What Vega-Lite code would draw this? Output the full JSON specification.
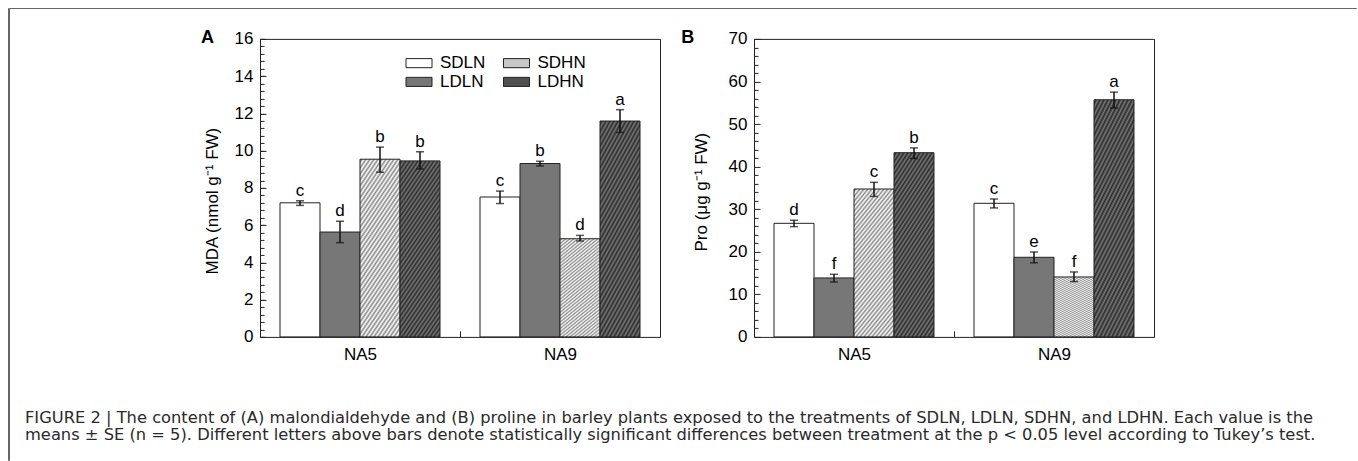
{
"$schema": "https://vega.github.io/schema/vega-lite/v6.json",
"padding": {"left": 7, "top": 7, "right": 0, "bottom": 0},
"autosize": {"type": "pad"},
"title": {
"text": ["FIGURE 2 | The content of (A) malondialdehyde and (B) proline in barley plants exposed to the treatments of SDLN, LDLN, SDHN, and LDHN. Each value is the", "means ± SE (n = 5). Different letters above bars denote statistically significant differences between treatment at the p < 0.05 level according to Tukey’s test."],
"orient": "bottom", "anchor": "start", "frame": "group", "dx": 17, "offset": -51,
"font": "DejaVu Sans", "fontSize": 16.3, "fontWeight": "normal", "lineHeight": 17, "baseline": "top", "color": "#2a2a2a"
},
"bounds": "flush",
"spacing": 0,
"datasets": {
"mda": [
{"genotype":"NA5","treatment":"SDLN","mean":7.2,"lo":7.06,"hi":7.31,"letter":"c"},
{"genotype":"NA5","treatment":"LDLN","mean":5.63,"lo":5.06,"hi":6.21,"letter":"d"},
{"genotype":"NA5","treatment":"SDHN","mean":9.54,"lo":8.84,"hi":10.19,"letter":"b"},
{"genotype":"NA5","treatment":"LDHN","mean":9.45,"lo":9.02,"hi":9.94,"letter":"b"},
{"genotype":"NA9","treatment":"SDLN","mean":7.51,"lo":7.16,"hi":7.83,"letter":"c"},
{"genotype":"NA9","treatment":"LDLN","mean":9.31,"lo":9.18,"hi":9.43,"letter":"b"},
{"genotype":"NA9","treatment":"SDHN","mean":5.27,"lo":5.15,"hi":5.45,"letter":"d"},
{"genotype":"NA9","treatment":"LDHN","mean":11.59,"lo":10.98,"hi":12.2,"letter":"a"}
],
"pro": [
{"genotype":"NA5","treatment":"SDLN","mean":26.68,"lo":25.9,"hi":27.4,"letter":"d"},
{"genotype":"NA5","treatment":"LDLN","mean":13.85,"lo":12.9,"hi":14.7,"letter":"f"},
{"genotype":"NA5","treatment":"SDHN","mean":34.74,"lo":33.0,"hi":36.3,"letter":"c"},
{"genotype":"NA5","treatment":"LDHN","mean":43.27,"lo":41.9,"hi":44.4,"letter":"b"},
{"genotype":"NA9","treatment":"SDLN","mean":31.38,"lo":30.3,"hi":32.4,"letter":"c"},
{"genotype":"NA9","treatment":"LDLN","mean":18.7,"lo":17.4,"hi":19.95,"letter":"e"},
{"genotype":"NA9","treatment":"SDHN","mean":14.08,"lo":12.99,"hi":15.26,"letter":"f"},
{"genotype":"NA9","treatment":"LDHN","mean":55.71,"lo":53.76,"hi":57.5,"letter":"a"}
]
},
"hconcat": [
{
"width": 0.01, "height": 452,
"view": {"stroke": "#666", "strokeWidth": 1},
"data": {"values": []},
"mark": {"type": "text"},
"encoding": {}
},
{
"vconcat": [
{
"width": 1347, "height": 0.01,
"view": {"stroke": "#666", "strokeWidth": 1},
"data": {"values": []},
"mark": {"type": "text"},
"encoding": {}
},
{
"hconcat": [
{
"width": 171.5, "height": 10,
"view": {"stroke": null},
"data": {"values": []},
"mark": {"type": "text"},
"encoding": {}
},
{
"width": 400,
"height": 298,
"data": {"name": "mda"},
"title": {"text": "A", "anchor": "start", "frame": "group", "dx": -59, "offset": 0, "dy": 30.7, "baseline": "alphabetic", "fontSize": 18, "fontWeight": "bold", "color": "#000"},
"encoding": {
"x": {"field": "genotype", "type": "nominal", "scale": {"paddingInner": 0, "paddingOuter": 0},
"axis": {"title": null, "labelAngle": 0, "labelPadding": 16, "tickBand": "extent", "tickSize": -6, "ticks": true}},
"xOffset": {"field": "treatment", "type": "nominal", "scale": {"domain": ["SDLN","LDLN","SDHN","LDHN"], "paddingInner": 0, "paddingOuter": 0.5}}
},
"resolve": {"axis": {"y": "independent"}},
"layer": [
{
"mark": {"type": "bar", "stroke": "#222", "strokeWidth": 1},
"encoding": {
"y": {"field": "mean", "type": "quantitative", "scale": {"domain": [0, 16], "nice": false},
"title": "MDA (nmol g⁻¹ FW)",
"axis": {"orient": "left", "values": [0,2,4,6,8,10,12,14,16], "tickCount": 100, "format": "d",
"labelOverlap": false, "labelFlush": false, "labelBound": false,
"tickSize": -6, "labelPadding": 13,
"titleX": -47.5, "titleY": 161.7, "titleAngle": 270, "titleAlign": "center", "titleBaseline": "middle"}},
"fill": {"field": "treatment", "type": "nominal",
"scale": {"domain": ["SDLN","LDLN","SDHN","LDHN"], "range": ["#ffffff","#777777","#c8c8c8","#505050"]},
"condition": [
{"test": "datum.treatment === 'SDHN'", "value":
{"gradient": "linear", "x1": 0, "y1": 0, "x2": 1, "y2": 3, "stops": [
{"offset":0,"color":"#fff"},{"offset":0.005,"color":"#888"},{"offset":0.01,"color":"#fff"},{"offset":0.015,"color":"#888"},{"offset":0.02,"color":"#fff"},{"offset":0.025,"color":"#888"},{"offset":0.03,"color":"#fff"},{"offset":0.035,"color":"#888"},{"offset":0.04,"color":"#fff"},{"offset":0.045,"color":"#888"},
{"offset":0.05,"color":"#fff"},{"offset":0.055,"color":"#888"},{"offset":0.06,"color":"#fff"},{"offset":0.065,"color":"#888"},{"offset":0.07,"color":"#fff"},{"offset":0.075,"color":"#888"},{"offset":0.08,"color":"#fff"},{"offset":0.085,"color":"#888"},{"offset":0.09,"color":"#fff"},{"offset":0.095,"color":"#888"},
{"offset":0.1,"color":"#fff"},{"offset":0.105,"color":"#888"},{"offset":0.11,"color":"#fff"},{"offset":0.115,"color":"#888"},{"offset":0.12,"color":"#fff"},{"offset":0.125,"color":"#888"},{"offset":0.13,"color":"#fff"},{"offset":0.135,"color":"#888"},{"offset":0.14,"color":"#fff"},{"offset":0.145,"color":"#888"},
{"offset":0.15,"color":"#fff"},{"offset":0.155,"color":"#888"},{"offset":0.16,"color":"#fff"},{"offset":0.165,"color":"#888"},{"offset":0.17,"color":"#fff"},{"offset":0.175,"color":"#888"},{"offset":0.18,"color":"#fff"},{"offset":0.185,"color":"#888"},{"offset":0.19,"color":"#fff"},{"offset":0.195,"color":"#888"},
{"offset":0.2,"color":"#fff"},{"offset":0.205,"color":"#888"},{"offset":0.21,"color":"#fff"},{"offset":0.215,"color":"#888"},{"offset":0.22,"color":"#fff"},{"offset":0.225,"color":"#888"},{"offset":0.23,"color":"#fff"},{"offset":0.235,"color":"#888"},{"offset":0.24,"color":"#fff"},{"offset":0.245,"color":"#888"},
{"offset":0.25,"color":"#fff"},{"offset":0.255,"color":"#888"},{"offset":0.26,"color":"#fff"},{"offset":0.265,"color":"#888"},{"offset":0.27,"color":"#fff"},{"offset":0.275,"color":"#888"},{"offset":0.28,"color":"#fff"},{"offset":0.285,"color":"#888"},{"offset":0.29,"color":"#fff"},{"offset":0.295,"color":"#888"},
{"offset":0.3,"color":"#fff"},{"offset":0.305,"color":"#888"},{"offset":0.31,"color":"#fff"},{"offset":0.315,"color":"#888"},{"offset":0.32,"color":"#fff"},{"offset":0.325,"color":"#888"},{"offset":0.33,"color":"#fff"},{"offset":0.335,"color":"#888"},{"offset":0.34,"color":"#fff"},{"offset":0.345,"color":"#888"},
{"offset":0.35,"color":"#fff"},{"offset":0.355,"color":"#888"},{"offset":0.36,"color":"#fff"},{"offset":0.365,"color":"#888"},{"offset":0.37,"color":"#fff"},{"offset":0.375,"color":"#888"},{"offset":0.38,"color":"#fff"},{"offset":0.385,"color":"#888"},{"offset":0.39,"color":"#fff"},{"offset":0.395,"color":"#888"},
{"offset":0.4,"color":"#fff"}]}},
{"test": "datum.treatment === 'LDHN'", "value":
{"gradient": "linear", "x1": 0, "y1": 0, "x2": 1, "y2": 3, "stops": [
{"offset":0,"color":"#777"},{"offset":0.005,"color":"#2a2a2a"},{"offset":0.01,"color":"#777"},{"offset":0.015,"color":"#2a2a2a"},{"offset":0.02,"color":"#777"},{"offset":0.025,"color":"#2a2a2a"},{"offset":0.03,"color":"#777"},{"offset":0.035,"color":"#2a2a2a"},{"offset":0.04,"color":"#777"},{"offset":0.045,"color":"#2a2a2a"},
{"offset":0.05,"color":"#777"},{"offset":0.055,"color":"#2a2a2a"},{"offset":0.06,"color":"#777"},{"offset":0.065,"color":"#2a2a2a"},{"offset":0.07,"color":"#777"},{"offset":0.075,"color":"#2a2a2a"},{"offset":0.08,"color":"#777"},{"offset":0.085,"color":"#2a2a2a"},{"offset":0.09,"color":"#777"},{"offset":0.095,"color":"#2a2a2a"},
{"offset":0.1,"color":"#777"},{"offset":0.105,"color":"#2a2a2a"},{"offset":0.11,"color":"#777"},{"offset":0.115,"color":"#2a2a2a"},{"offset":0.12,"color":"#777"},{"offset":0.125,"color":"#2a2a2a"},{"offset":0.13,"color":"#777"},{"offset":0.135,"color":"#2a2a2a"},{"offset":0.14,"color":"#777"},{"offset":0.145,"color":"#2a2a2a"},
{"offset":0.15,"color":"#777"},{"offset":0.155,"color":"#2a2a2a"},{"offset":0.16,"color":"#777"},{"offset":0.165,"color":"#2a2a2a"},{"offset":0.17,"color":"#777"},{"offset":0.175,"color":"#2a2a2a"},{"offset":0.18,"color":"#777"},{"offset":0.185,"color":"#2a2a2a"},{"offset":0.19,"color":"#777"},{"offset":0.195,"color":"#2a2a2a"},
{"offset":0.2,"color":"#777"},{"offset":0.205,"color":"#2a2a2a"},{"offset":0.21,"color":"#777"},{"offset":0.215,"color":"#2a2a2a"},{"offset":0.22,"color":"#777"},{"offset":0.225,"color":"#2a2a2a"},{"offset":0.23,"color":"#777"},{"offset":0.235,"color":"#2a2a2a"},{"offset":0.24,"color":"#777"},{"offset":0.245,"color":"#2a2a2a"},
{"offset":0.25,"color":"#777"},{"offset":0.255,"color":"#2a2a2a"},{"offset":0.26,"color":"#777"},{"offset":0.265,"color":"#2a2a2a"},{"offset":0.27,"color":"#777"},{"offset":0.275,"color":"#2a2a2a"},{"offset":0.28,"color":"#777"},{"offset":0.285,"color":"#2a2a2a"},{"offset":0.29,"color":"#777"},{"offset":0.295,"color":"#2a2a2a"},
{"offset":0.3,"color":"#777"},{"offset":0.305,"color":"#2a2a2a"},{"offset":0.31,"color":"#777"},{"offset":0.315,"color":"#2a2a2a"},{"offset":0.32,"color":"#777"},{"offset":0.325,"color":"#2a2a2a"},{"offset":0.33,"color":"#777"},{"offset":0.335,"color":"#2a2a2a"},{"offset":0.34,"color":"#777"},{"offset":0.345,"color":"#2a2a2a"},
{"offset":0.35,"color":"#777"},{"offset":0.355,"color":"#2a2a2a"},{"offset":0.36,"color":"#777"},{"offset":0.365,"color":"#2a2a2a"},{"offset":0.37,"color":"#777"},{"offset":0.375,"color":"#2a2a2a"},{"offset":0.38,"color":"#777"},{"offset":0.385,"color":"#2a2a2a"},{"offset":0.39,"color":"#777"},{"offset":0.395,"color":"#2a2a2a"},
{"offset":0.4,"color":"#777"}]}}
],
"legend": {"orient": "none", "legendX": 150.5, "legendY": 15.5, "columns": 2, "title": null, "padding": 0,
"symbolType": "M-2,-0.7H2V0.7H-2Z", "symbolSize": 169, "symbolStrokeColor": "#222", "symbolStrokeWidth": 1, "symbolOpacity": 1,
"labelFontSize": 17, "labelOffset": 12.5, "labelColor": "#000", "columnPadding": 15.5, "rowPadding": 1,
"encode": {"symbols": {"update": {
"stroke": {"value": "#222"}, "strokeWidth": {"value": 1},
"fill": {"condition": [
{"test": "datum.value === 'SDHN'", "value": {"gradient": "linear", "x1": 0, "y1": 0, "x2": 1.2, "y2": 0.42, "stops": [
{"offset":0,"color":"#fff"},{"offset":0.06,"color":"#888"},{"offset":0.12,"color":"#fff"},{"offset":0.18,"color":"#888"},{"offset":0.24,"color":"#fff"},{"offset":0.3,"color":"#888"},{"offset":0.36,"color":"#fff"},{"offset":0.42,"color":"#888"},{"offset":0.48,"color":"#fff"},{"offset":0.54,"color":"#888"},{"offset":0.6,"color":"#fff"},{"offset":0.66,"color":"#888"},{"offset":0.72,"color":"#fff"},{"offset":0.78,"color":"#888"},{"offset":0.84,"color":"#fff"},{"offset":0.9,"color":"#888"},{"offset":0.96,"color":"#fff"},{"offset":1,"color":"#888"}]}},
{"test": "datum.value === 'LDHN'", "value": {"gradient": "linear", "x1": 0, "y1": 0, "x2": 1.2, "y2": 0.42, "stops": [
{"offset":0,"color":"#777"},{"offset":0.06,"color":"#2a2a2a"},{"offset":0.12,"color":"#777"},{"offset":0.18,"color":"#2a2a2a"},{"offset":0.24,"color":"#777"},{"offset":0.3,"color":"#2a2a2a"},{"offset":0.36,"color":"#777"},{"offset":0.42,"color":"#2a2a2a"},{"offset":0.48,"color":"#777"},{"offset":0.54,"color":"#2a2a2a"},{"offset":0.6,"color":"#777"},{"offset":0.66,"color":"#2a2a2a"},{"offset":0.72,"color":"#777"},{"offset":0.78,"color":"#2a2a2a"},{"offset":0.84,"color":"#777"},{"offset":0.9,"color":"#2a2a2a"},{"offset":0.96,"color":"#777"},{"offset":1,"color":"#2a2a2a"}]}},
{"test": "datum.value === 'LDLN'", "value": "#777777"}
], "value": "#ffffff"}
}}}}
}
}
},
{
"mark": {"type": "errorbar", "ticks": {"size": 8, "thickness": 1.5, "color": "#111"}, "rule": {"strokeWidth": 1.5, "color": "#111"}},
"encoding": {
"y": {"field": "lo", "type": "quantitative", "title": null,
"axis": {"orient": "left", "values": [0,0.4,0.8,1.2,1.6,2,2.4,2.8,3.2,3.6,4,4.4,4.8,5.2,5.6,6,6.4,6.8,7.2,7.6,8,8.4,8.8,9.2,9.6,10,10.4,10.8,11.2,11.6,12,12.4,12.8,13.2,13.6,14,14.4,14.8,15.2,15.6,16],
"tickCount": 100, "labels": false, "title": null, "tickSize": -4}},
"y2": {"field": "hi"}
}
},
{
"mark": {"type": "text", "baseline": "alphabetic", "dy": -5, "fontSize": 17, "color": "#000"},
"encoding": {
"y": {"field": "hi", "type": "quantitative", "axis": null},
"text": {"field": "letter"}
}
}
]
},
{
"width": 400,
"height": 298,
"data": {"name": "pro"},
"title": {"text": "B", "anchor": "start", "frame": "group", "dx": -72.7, "offset": 0, "dy": 30.7, "baseline": "alphabetic", "fontSize": 18, "fontWeight": "bold", "color": "#000"},
"encoding": {
"x": {"field": "genotype", "type": "nominal", "scale": {"paddingInner": 0, "paddingOuter": 0},
"axis": {"title": null, "labelAngle": 0, "labelPadding": 16, "tickBand": "extent", "tickSize": -6, "ticks": true}},
"xOffset": {"field": "treatment", "type": "nominal", "scale": {"domain": ["SDLN","LDLN","SDHN","LDHN"], "paddingInner": 0, "paddingOuter": 0.5}}
},
"layer": [
{
"mark": {"type": "bar", "stroke": "#222", "strokeWidth": 1},
"encoding": {
"y": {"field": "mean", "type": "quantitative", "scale": {"domain": [0, 70], "nice": false},
"title": "Pro (μg g⁻¹ FW)",
"axis": {"values": [0,2,4,6,8,10,12,14,16,18,20,22,24,26,28,30,32,34,36,38,40,42,44,46,48,50,52,54,56,58,60,62,64,66,68,70],
"tickCount": 100, "format": "d", "labelExpr": "datum.value % 10 == 0 ? datum.label : ''",
"labelOverlap": false, "labelFlush": false, "labelBound": false,
"tickSize": {"condition": {"test": "datum.value % 10 == 0", "value": -6}, "value": -4},
"labelPadding": 13,
"titleX": -52.2, "titleY": 152.7, "titleAngle": 270, "titleAlign": "center", "titleBaseline": "middle"}},
"fill": {"field": "treatment", "type": "nominal",
"scale": {"domain": ["SDLN","LDLN","SDHN","LDHN"], "range": ["#ffffff","#777777","#c8c8c8","#505050"]},
"legend": null,
"condition": [
{"test": "datum.treatment === 'SDHN'", "value":
{"gradient": "linear", "x1": 0, "y1": 0, "x2": 1, "y2": 3, "stops": [
{"offset":0,"color":"#fff"},{"offset":0.005,"color":"#888"},{"offset":0.01,"color":"#fff"},{"offset":0.015,"color":"#888"},{"offset":0.02,"color":"#fff"},{"offset":0.025,"color":"#888"},{"offset":0.03,"color":"#fff"},{"offset":0.035,"color":"#888"},{"offset":0.04,"color":"#fff"},{"offset":0.045,"color":"#888"},
{"offset":0.05,"color":"#fff"},{"offset":0.055,"color":"#888"},{"offset":0.06,"color":"#fff"},{"offset":0.065,"color":"#888"},{"offset":0.07,"color":"#fff"},{"offset":0.075,"color":"#888"},{"offset":0.08,"color":"#fff"},{"offset":0.085,"color":"#888"},{"offset":0.09,"color":"#fff"},{"offset":0.095,"color":"#888"},
{"offset":0.1,"color":"#fff"},{"offset":0.105,"color":"#888"},{"offset":0.11,"color":"#fff"},{"offset":0.115,"color":"#888"},{"offset":0.12,"color":"#fff"},{"offset":0.125,"color":"#888"},{"offset":0.13,"color":"#fff"},{"offset":0.135,"color":"#888"},{"offset":0.14,"color":"#fff"},{"offset":0.145,"color":"#888"},
{"offset":0.15,"color":"#fff"},{"offset":0.155,"color":"#888"},{"offset":0.16,"color":"#fff"},{"offset":0.165,"color":"#888"},{"offset":0.17,"color":"#fff"},{"offset":0.175,"color":"#888"},{"offset":0.18,"color":"#fff"},{"offset":0.185,"color":"#888"},{"offset":0.19,"color":"#fff"},{"offset":0.195,"color":"#888"},
{"offset":0.2,"color":"#fff"},{"offset":0.205,"color":"#888"},{"offset":0.21,"color":"#fff"},{"offset":0.215,"color":"#888"},{"offset":0.22,"color":"#fff"},{"offset":0.225,"color":"#888"},{"offset":0.23,"color":"#fff"},{"offset":0.235,"color":"#888"},{"offset":0.24,"color":"#fff"},{"offset":0.245,"color":"#888"},
{"offset":0.25,"color":"#fff"},{"offset":0.255,"color":"#888"},{"offset":0.26,"color":"#fff"},{"offset":0.265,"color":"#888"},{"offset":0.27,"color":"#fff"},{"offset":0.275,"color":"#888"},{"offset":0.28,"color":"#fff"},{"offset":0.285,"color":"#888"},{"offset":0.29,"color":"#fff"},{"offset":0.295,"color":"#888"},
{"offset":0.3,"color":"#fff"},{"offset":0.305,"color":"#888"},{"offset":0.31,"color":"#fff"},{"offset":0.315,"color":"#888"},{"offset":0.32,"color":"#fff"},{"offset":0.325,"color":"#888"},{"offset":0.33,"color":"#fff"},{"offset":0.335,"color":"#888"},{"offset":0.34,"color":"#fff"},{"offset":0.345,"color":"#888"},
{"offset":0.35,"color":"#fff"},{"offset":0.355,"color":"#888"},{"offset":0.36,"color":"#fff"},{"offset":0.365,"color":"#888"},{"offset":0.37,"color":"#fff"},{"offset":0.375,"color":"#888"},{"offset":0.38,"color":"#fff"},{"offset":0.385,"color":"#888"},{"offset":0.39,"color":"#fff"},{"offset":0.395,"color":"#888"},
{"offset":0.4,"color":"#fff"}]}},
{"test": "datum.treatment === 'LDHN'", "value":
{"gradient": "linear", "x1": 0, "y1": 0, "x2": 1, "y2": 3, "stops": [
{"offset":0,"color":"#777"},{"offset":0.005,"color":"#2a2a2a"},{"offset":0.01,"color":"#777"},{"offset":0.015,"color":"#2a2a2a"},{"offset":0.02,"color":"#777"},{"offset":0.025,"color":"#2a2a2a"},{"offset":0.03,"color":"#777"},{"offset":0.035,"color":"#2a2a2a"},{"offset":0.04,"color":"#777"},{"offset":0.045,"color":"#2a2a2a"},
{"offset":0.05,"color":"#777"},{"offset":0.055,"color":"#2a2a2a"},{"offset":0.06,"color":"#777"},{"offset":0.065,"color":"#2a2a2a"},{"offset":0.07,"color":"#777"},{"offset":0.075,"color":"#2a2a2a"},{"offset":0.08,"color":"#777"},{"offset":0.085,"color":"#2a2a2a"},{"offset":0.09,"color":"#777"},{"offset":0.095,"color":"#2a2a2a"},
{"offset":0.1,"color":"#777"},{"offset":0.105,"color":"#2a2a2a"},{"offset":0.11,"color":"#777"},{"offset":0.115,"color":"#2a2a2a"},{"offset":0.12,"color":"#777"},{"offset":0.125,"color":"#2a2a2a"},{"offset":0.13,"color":"#777"},{"offset":0.135,"color":"#2a2a2a"},{"offset":0.14,"color":"#777"},{"offset":0.145,"color":"#2a2a2a"},
{"offset":0.15,"color":"#777"},{"offset":0.155,"color":"#2a2a2a"},{"offset":0.16,"color":"#777"},{"offset":0.165,"color":"#2a2a2a"},{"offset":0.17,"color":"#777"},{"offset":0.175,"color":"#2a2a2a"},{"offset":0.18,"color":"#777"},{"offset":0.185,"color":"#2a2a2a"},{"offset":0.19,"color":"#777"},{"offset":0.195,"color":"#2a2a2a"},
{"offset":0.2,"color":"#777"},{"offset":0.205,"color":"#2a2a2a"},{"offset":0.21,"color":"#777"},{"offset":0.215,"color":"#2a2a2a"},{"offset":0.22,"color":"#777"},{"offset":0.225,"color":"#2a2a2a"},{"offset":0.23,"color":"#777"},{"offset":0.235,"color":"#2a2a2a"},{"offset":0.24,"color":"#777"},{"offset":0.245,"color":"#2a2a2a"},
{"offset":0.25,"color":"#777"},{"offset":0.255,"color":"#2a2a2a"},{"offset":0.26,"color":"#777"},{"offset":0.265,"color":"#2a2a2a"},{"offset":0.27,"color":"#777"},{"offset":0.275,"color":"#2a2a2a"},{"offset":0.28,"color":"#777"},{"offset":0.285,"color":"#2a2a2a"},{"offset":0.29,"color":"#777"},{"offset":0.295,"color":"#2a2a2a"},
{"offset":0.3,"color":"#777"},{"offset":0.305,"color":"#2a2a2a"},{"offset":0.31,"color":"#777"},{"offset":0.315,"color":"#2a2a2a"},{"offset":0.32,"color":"#777"},{"offset":0.325,"color":"#2a2a2a"},{"offset":0.33,"color":"#777"},{"offset":0.335,"color":"#2a2a2a"},{"offset":0.34,"color":"#777"},{"offset":0.345,"color":"#2a2a2a"},
{"offset":0.35,"color":"#777"},{"offset":0.355,"color":"#2a2a2a"},{"offset":0.36,"color":"#777"},{"offset":0.365,"color":"#2a2a2a"},{"offset":0.37,"color":"#777"},{"offset":0.375,"color":"#2a2a2a"},{"offset":0.38,"color":"#777"},{"offset":0.385,"color":"#2a2a2a"},{"offset":0.39,"color":"#777"},{"offset":0.395,"color":"#2a2a2a"},
{"offset":0.4,"color":"#777"}]}}
]
}
}
},
{
"mark": {"type": "errorbar", "ticks": {"size": 8, "thickness": 1.5, "color": "#111"}, "rule": {"strokeWidth": 1.5, "color": "#111"}},
"encoding": {
"y": {"field": "lo", "type": "quantitative", "title": "Pro (μg g⁻¹ FW)",
"axis": {"values": [0,2,4,6,8,10,12,14,16,18,20,22,24,26,28,30,32,34,36,38,40,42,44,46,48,50,52,54,56,58,60,62,64,66,68,70],
"tickCount": 100, "format": "d", "labelExpr": "datum.value % 10 == 0 ? datum.label : ''",
"labelOverlap": false, "labelFlush": false, "labelBound": false,
"tickSize": {"condition": {"test": "datum.value % 10 == 0", "value": -6}, "value": -4},
"labelPadding": 13,
"titleX": -52.2, "titleY": 152.7, "titleAngle": 270, "titleAlign": "center", "titleBaseline": "middle"}},
"y2": {"field": "hi"}
}
},
{
"mark": {"type": "text", "baseline": "alphabetic", "dy": -5, "fontSize": 17, "color": "#000"},
"encoding": {
"y": {"field": "hi", "type": "quantitative", "title": "Pro (μg g⁻¹ FW)",
"axis": {"values": [0,2,4,6,8,10,12,14,16,18,20,22,24,26,28,30,32,34,36,38,40,42,44,46,48,50,52,54,56,58,60,62,64,66,68,70],
"tickCount": 100, "format": "d", "labelExpr": "datum.value % 10 == 0 ? datum.label : ''",
"labelOverlap": false, "labelFlush": false, "labelBound": false,
"tickSize": {"condition": {"test": "datum.value % 10 == 0", "value": -6}, "value": -4},
"labelPadding": 13,
"titleX": -52.2, "titleY": 152.7, "titleAngle": 270, "titleAlign": "center", "titleBaseline": "middle"}},
"text": {"field": "letter"}
}
}
]
}
],
"spacing": 19,
"bounds": "full",
"resolve": {"scale": {"fill": "independent"}, "legend": {"fill": "independent"}}
}
],
"spacing": 29.9,
"bounds": "flush"
},
{
"width": 0.01, "height": 452,
"view": {"stroke": "#666", "strokeWidth": 1},
"data": {"values": []},
"mark": {"type": "text"},
"encoding": {}
}
],
"config": {
"font": "Liberation Sans",
"view": {"stroke": "#222", "strokeWidth": 1},
"axis": {"labelColor": "#000", "titleColor": "#000", "tickColor": "#222", "tickWidth": 1, "domain": false, "grid": false, "labelFontSize": 17, "titleFontSize": 17, "titleFontWeight": "normal", "labelOverlap": false},
"title": {"color": "#000"}
}
}
